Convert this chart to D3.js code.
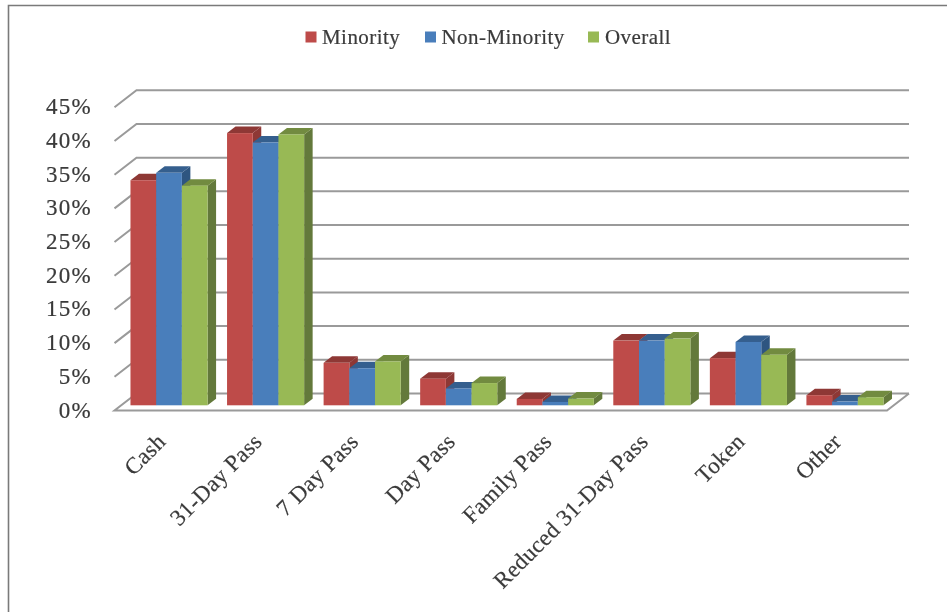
<!DOCTYPE html>
<html><head><meta charset="utf-8">
<script src="https://cdn.jsdelivr.net/npm/d3@7"></script>
<style>html,body{margin:0;padding:0;background:#fff}svg{display:block}</style>
</head><body><svg id="c" width="947" height="612"></svg>
<script>
const categories=["Cash","31-Day Pass","7 Day Pass","Day Pass","Family Pass","Reduced 31-Day Pass","Token","Other"];
const minority=[33.4,40.4,6.3,3.95,0.95,9.6,7.0,1.5];
const nonMinority=[34.5,39.0,5.5,2.5,0.5,9.6,9.4,0.55];
const overall=[32.6,40.2,6.5,3.3,1.0,9.9,7.5,1.2];
const seriesNames=["Minority","Non-Minority","Overall"];
const seriesValues=[minority,nonMinority,overall];
const ticks=[0,5,10,15,20,25,30,35,40,45];
const colors=["#BE4B48","#4A7EBB","#98B954"];
const topColors=["#8E3735","#355F8E","#728B3F"];
const sideColors=["#8E3735","#2F5580","#64793A"];
const FONT="'Liberation Serif',serif", TXT="#3a3a3a", GRID="#9a9a9a";

const svg=d3.select("#c");
const defs=svg.append("defs");
defs.append("filter").attr("id","soft").attr("x","-2%").attr("y","-2%").attr("width","104%").attr("height","104%")
  .append("feGaussianBlur").attr("stdDeviation",0.45);
const root=svg.append("g").attr("filter","url(#soft)");
root.append("rect").attr("width",947).attr("height",612).attr("fill","#fff");
root.append("path").attr("d","M8.5,620V5.5H960").attr("fill","none").attr("stroke","#7a7a7a").attr("stroke-width",1.6);

const y=d3.scaleLinear().domain([0,45]).range([393.5,90.3]);
const x0=d3.scaleBand().domain(categories).range([114.5,887]);
const wallDx=22, wallDy=17;
const frontY=v=>y(v)+wallDy;

const g=root.append("g");
g.selectAll("path.grid").data(ticks.filter(t=>t>0)).join("path").attr("class","grid")
 .attr("d",t=>`M${114.5},${frontY(t)}L${114.5+wallDx},${y(t)}H909`)
 .attr("fill","none").attr("stroke",GRID).attr("stroke-width",2);
g.append("path").attr("d",`M909,${y(0)}H${114.5+wallDx}L114.5,${frontY(0)}H887L909,${y(0)}`)
 .attr("fill","#fff").attr("stroke",GRID).attr("stroke-width",2);

const barW=25.7, bx=8.5, by=6.5, baseOff=11.8, groupOff=6.25;
const barH=d3.scaleLinear().domain([0,45]).range([0,303.2]);
const barBase=y(0)+baseOff;
const bars=root.append("g");
categories.forEach((c,i)=>{
  const cx=x0(c)+x0.step()/2+groupOff;
  [0,1,2].forEach(s=>{
    const left=cx-1.5*barW+s*barW;
    const h=barH(seriesValues[s][i]);
    const top=barBase-h;
    bars.append("path").attr("fill",sideColors[s])
      .attr("d",`M${left+barW},${top}l${bx},${-by}V${barBase-by}l${-bx},${by}Z`);
    bars.append("path").attr("fill",topColors[s])
      .attr("d",`M${left},${top}l${bx},${-by}h${barW}l${-bx},${by}Z`);
    bars.append("rect").attr("x",left).attr("y",top).attr("width",barW).attr("height",h).attr("fill",colors[s]);
  });
});

root.append("g").selectAll("text").data(ticks).join("text")
  .attr("x",92).attr("y",t=>frontY(t)+7).attr("text-anchor","end")
  .attr("font-family",FONT).attr("font-size",23).attr("letter-spacing",1.3).attr("fill",TXT)
  .attr("stroke",TXT).attr("stroke-width",0.2)
  .text(t=>t+"%");

root.append("g").selectAll("text").data(categories).join("text")
  .attr("text-anchor","end").attr("font-family",FONT).attr("font-size",23).attr("letter-spacing",0.3).attr("fill",TXT)
  .attr("stroke",TXT).attr("stroke-width",0.2)
  .attr("transform",c=>`translate(${x0(c)+x0.step()/2-9},${430}) rotate(-45)`)
  .attr("dy","0.8em")
  .text(c=>c);

const legend=[[305.5,322,"Minority"],[425,441.5,"Non-Minority"],[588,605,"Overall"]];
const lg=root.append("g");
seriesNames.forEach((n,i)=>{
  const p=legend[i];
  lg.append("rect").attr("x",p[0]).attr("y",31.5).attr("width",11).attr("height",11).attr("fill",colors[i]);
  lg.append("text").attr("x",p[1]).attr("y",44).attr("font-family",FONT).attr("font-size",21).attr("letter-spacing",0.45).attr("fill",TXT)
    .attr("stroke",TXT).attr("stroke-width",0.2).text(n);
});
</script></body></html>
